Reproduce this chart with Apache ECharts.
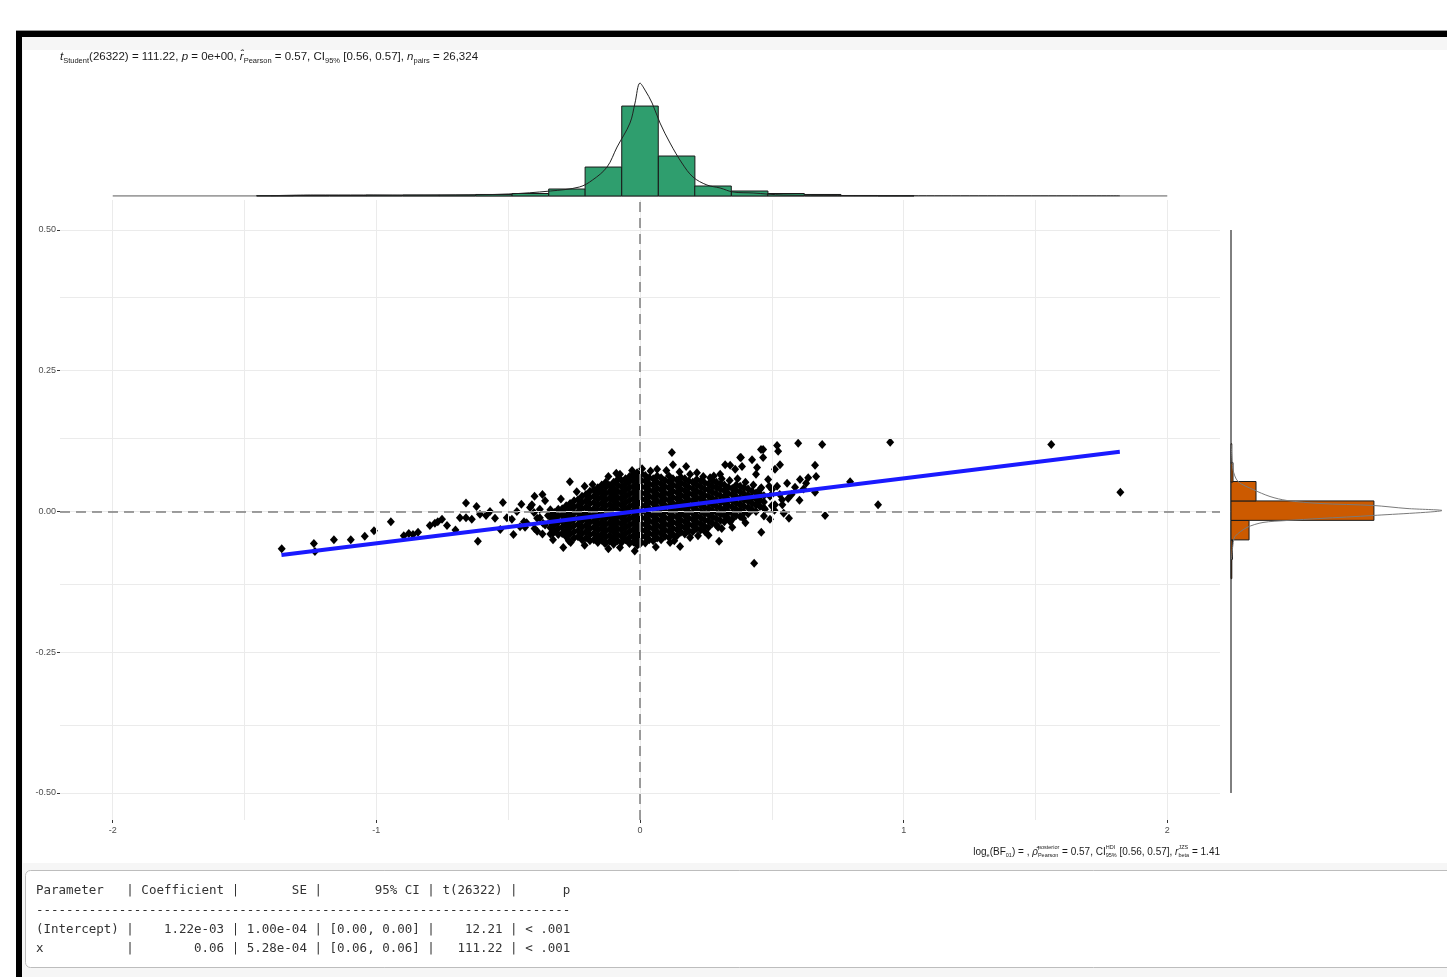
<!DOCTYPE html>
<html><head><meta charset="utf-8">
<script src="https://cdn.jsdelivr.net/npm/echarts@6/dist/echarts.min.js"></script>
<style>html,body{margin:0;padding:0;background:#fff;}#c{width:1447px;height:977px;}</style>
</head><body><div id="c"></div><script>
// ---------- data ----------
const xTicks = [-2, -1, 0, 1, 2];
const xTickLabels = ['-2', '-1', '0', '1', '2'];
const xMinorGrid = [-1.5, -0.5, 0.5, 1.5];
const yTicks = [-0.5, -0.25, 0, 0.25, 0.5];
const yTickLabels = ['-0.50', '-0.25', '0.00', '0.25', '0.50'];
const yMinorGrid = [-0.375, -0.125, 0.125, 0.375];

// isolated / sparse points [x, y]
const tailPoints = [
  [-1.359,-0.066],[-1.237,-0.057],[-1.233,-0.071],[-1.161,-0.050],[-1.097,-0.050],[-1.044,-0.044],[-1.009,-0.034],
  [-0.945,-0.018],[-0.896,-0.043],[-0.877,-0.039],[-0.861,-0.041],[-0.842,-0.037],[-0.797,-0.025],[-0.778,-0.021],
  [-0.767,-0.018],[-0.751,-0.014],[-0.732,-0.025],[-0.700,-0.033],[-0.683,-0.011],[-0.660,-0.011],[-0.660,0.015],
  [-0.638,-0.014],[-0.620,0.009],[-0.615,-0.053],[-0.607,-0.005],[-0.584,-0.007],[-0.569,0.000],[-0.550,-0.012],
  [-0.530,-0.032],[-0.520,0.016],[-0.505,-0.011],[-0.486,-0.014],[-0.480,-0.041],[-0.467,0.000],[-0.455,-0.027],
  [-0.450,0.013],[-0.440,-0.018],[-0.436,-0.028],[-0.417,0.007],[-0.402,-0.002],[-0.400,0.027],[-0.380,-0.011],
  [-0.370,0.030],[-0.368,-0.021],[-0.360,0.019],[-0.349,-0.007],[-0.330,-0.050],[-0.330,-0.038],[-0.291,-0.064],
  [-0.266,0.053],[-0.263,-0.055],[-0.158,-0.049],[-0.133,-0.057],[-0.076,-0.064],[-0.045,-0.053],[0.114,-0.055],
  [0.152,-0.062],[0.300,-0.053],[0.460,-0.037],[0.391,-0.012],
  [-0.076,0.066],[-0.011,0.069],[0.008,0.076],[0.065,0.075],[0.121,0.105],[0.125,0.083],[0.175,0.080],[0.216,0.069],
  [0.323,0.083],[0.380,0.096],[0.387,0.080],[0.444,0.078],[0.467,0.110],[0.459,0.110],[0.520,0.117],[0.524,0.107],
  [0.600,0.121],[0.691,0.119],[0.949,0.123],[1.560,0.119],[1.822,0.034],[0.903,0.012],[0.702,-0.007],[0.797,0.053],
  [0.664,0.082],[0.668,0.062],[0.433,-0.092],[0.565,-0.012],[0.562,0.023],[0.607,0.057],[0.630,0.050],[0.638,0.060],
  [0.664,0.034],[0.531,0.083],[0.512,0.075],[0.467,0.096],[0.425,0.092],[0.383,0.096],[0.361,0.075],[0.342,0.082],
  [0.304,0.066],[0.266,0.060],[0.512,0.012],[0.539,0.021],[0.493,0.027],[0.474,0.004],[0.501,0.039],[0.455,0.039],
  [0.588,0.043],[0.558,0.050],[0.486,0.057],[0.440,0.066],[0.410,0.021],[0.380,0.012],[0.444,0.014],[0.342,-0.018],
  [0.296,-0.028],[0.247,-0.036],[0.190,-0.046],[0.493,-0.014],[0.545,-0.003],[0.575,0.030],[0.620,0.040],[0.605,0.020],
  [-0.400,-0.030],[-0.390,-0.012],[-0.380,0.004],[-0.370,-0.040],[-0.360,-0.024],[0.500,0.030],[0.500,0.010],
  [0.520,0.045],[0.530,0.030],[-0.210,0.045],[-0.120,0.062],[0.260,-0.042],[0.350,-0.028],
  [-0.300,0.022],[-0.240,0.035],[-0.180,0.048],[-0.090,0.068],[-0.030,0.073],[0.040,0.072],[0.100,0.073],[0.150,0.070],
  [0.190,0.066],[0.240,0.062],[0.280,0.063],[0.310,0.058],[0.340,0.055],[0.370,0.058],[0.400,0.052],[0.430,0.047],
  [0.460,0.042],[-0.270,-0.052],[-0.210,-0.060],[-0.120,-0.066],[-0.020,-0.070],[0.060,-0.063],[0.130,-0.052],
  [0.220,-0.043],[0.310,-0.030],[0.400,-0.020],[0.470,-0.008],[-0.430,-0.020],[-0.410,0.012],[-0.390,-0.035],
  [0.490,0.045],[0.510,0.002],[0.540,0.012]
];

// dense core: [x, [y values at that x]]
const coreCols = [
  [-0.34, [-0.040,-0.029,-0.018,-0.007,0.003]],
  [-0.325,[-0.035,-0.024,-0.013,-0.002]],
  [-0.31, [-0.041,-0.030,-0.019,-0.008,0.004]],
  [-0.295,[-0.039,-0.028,-0.017,-0.006,0.005]],
  [-0.28, [-0.045,-0.034,-0.023,-0.012,-0.001,0.010]],
  [-0.265,[-0.040,-0.029,-0.018,-0.007,0.004,0.014]],
  [-0.25, [-0.047,-0.036,-0.025,-0.014,-0.003,0.008,0.019]],
  [-0.235,[-0.045,-0.034,-0.023,-0.012,-0.001,0.010,0.021]],
  [-0.22, [-0.050,-0.039,-0.028,-0.017,-0.006,0.005,0.016,0.027]],
  [-0.205,[-0.047,-0.036,-0.025,-0.014,-0.003,0.008,0.019,0.030]],
  [-0.19, [-0.052,-0.041,-0.030,-0.019,-0.008,0.003,0.014,0.025,0.036]],
  [-0.175,[-0.050,-0.039,-0.028,-0.017,-0.006,0.005,0.016,0.027,0.038]],
  [-0.16, [-0.055,-0.044,-0.033,-0.022,-0.011,0.000,0.011,0.022,0.033,0.042]],
  [-0.145,[-0.051,-0.040,-0.029,-0.018,-0.007,0.004,0.015,0.026,0.037,0.047]],
  [-0.13, [-0.056,-0.045,-0.034,-0.023,-0.012,-0.001,0.010,0.021,0.032,0.043,0.052]],
  [-0.115,[-0.053,-0.042,-0.031,-0.020,-0.009,0.002,0.013,0.024,0.035,0.046]],
  [-0.10, [-0.058,-0.047,-0.036,-0.025,-0.014,-0.003,0.008,0.019,0.030,0.041,0.052]],
  [-0.085,[-0.052,-0.041,-0.030,-0.019,-0.008,0.003,0.014,0.025,0.036,0.047,0.057]],
  [-0.07, [-0.055,-0.044,-0.033,-0.022,-0.011,0.000,0.011,0.022,0.033,0.044,0.055]],
  [-0.055,[-0.050,-0.039,-0.028,-0.017,-0.006,0.005,0.016,0.027,0.038,0.049,0.058]],
  [-0.04, [-0.057,-0.046,-0.035,-0.024,-0.013,-0.002,0.009,0.020,0.031,0.042,0.053,0.062]],
  [-0.025,[-0.054,-0.043,-0.032,-0.021,-0.010,0.001,0.012,0.023,0.034,0.045,0.056,0.066]],
  [-0.01, [-0.060,-0.049,-0.038,-0.027,-0.016,-0.005,0.006,0.017,0.028,0.039,0.050,0.061]],
  [0.005, [-0.055,-0.044,-0.033,-0.022,-0.011,0.000,0.011,0.022,0.033,0.044,0.055,0.067]],
  [0.02,  [-0.056,-0.045,-0.034,-0.023,-0.012,-0.001,0.010,0.021,0.032,0.043,0.054,0.064]],
  [0.035, [-0.050,-0.039,-0.028,-0.017,-0.006,0.005,0.016,0.027,0.038,0.049,0.060]],
  [0.05,  [-0.052,-0.041,-0.030,-0.019,-0.008,0.003,0.014,0.025,0.036,0.047,0.058]],
  [0.065, [-0.047,-0.036,-0.025,-0.014,-0.003,0.008,0.019,0.030,0.041,0.052,0.063]],
  [0.08,  [-0.050,-0.039,-0.028,-0.017,-0.006,0.005,0.016,0.027,0.038,0.049,0.060]],
  [0.095, [-0.044,-0.033,-0.022,-0.011,0.000,0.011,0.022,0.033,0.044,0.055]],
  [0.11,  [-0.046,-0.035,-0.024,-0.013,-0.002,0.009,0.020,0.031,0.042,0.053,0.063]],
  [0.125, [-0.041,-0.030,-0.019,-0.008,0.003,0.014,0.025,0.036,0.047,0.058]],
  [0.14,  [-0.043,-0.032,-0.021,-0.010,0.001,0.012,0.023,0.034,0.045,0.056]],
  [0.155, [-0.037,-0.026,-0.015,-0.004,0.007,0.018,0.029,0.040,0.051,0.061]],
  [0.17,  [-0.040,-0.029,-0.018,-0.007,0.004,0.015,0.026,0.037,0.048,0.058]],
  [0.185, [-0.034,-0.023,-0.012,-0.001,0.010,0.021,0.032,0.043,0.054]],
  [0.20,  [-0.036,-0.025,-0.014,-0.003,0.008,0.019,0.030,0.041,0.052]],
  [0.215, [-0.030,-0.019,-0.008,0.003,0.014,0.025,0.036,0.047,0.057]],
  [0.23,  [-0.033,-0.022,-0.011,0.000,0.011,0.022,0.033,0.044,0.054]],
  [0.245, [-0.026,-0.015,-0.004,0.007,0.018,0.029,0.040,0.051]],
  [0.26,  [-0.028,-0.017,-0.006,0.005,0.016,0.027,0.038,0.049]],
  [0.275, [-0.021,-0.010,0.001,0.012,0.023,0.034,0.045,0.055]],
  [0.29,  [-0.024,-0.013,-0.002,0.009,0.020,0.031,0.042,0.052]],
  [0.305, [-0.016,-0.005,0.006,0.017,0.028,0.039,0.049]],
  [0.32,  [-0.018,-0.007,0.004,0.015,0.026,0.037,0.047]],
  [0.335, [-0.012,-0.001,0.010,0.021,0.032,0.043]],
  [0.35,  [-0.014,-0.003,0.008,0.019,0.030,0.041]],
  [0.365, [-0.007,0.004,0.015,0.026,0.037,0.047]],
  [0.38,  [-0.009,0.002,0.013,0.024,0.035,0.045]],
  [0.395, [-0.002,0.009,0.020,0.031,0.042]],
  [0.41,  [-0.004,0.007,0.018,0.029,0.040]],
  [0.425, [0.003,0.014,0.025,0.036]],
  [0.44,  [0.000,0.011,0.022,0.033]],
  [0.455, [0.009,0.020,0.031]],
  [0.47,  [0.006,0.017,0.028]]
];

// regression fit (x range of data)
const fitX = [-1.36, 1.82];
const fitY = [-0.0772, 0.1062];

// top marginal histogram of x
const xBinWidth = 0.1385;
const xBinCenters = [-1.385,-1.247,-1.108,-0.970,-0.831,-0.693,-0.554,-0.416,-0.277,-0.139,0,0.139,0.277,0.416,0.554,0.693,0.831,0.970];
const xBinCounts  = [40,70,70,110,140,140,210,345,965,4000,12420,5520,1380,690,345,210,70,40];
const xDensX = [-1.40,-1.24,-1.05,-0.90,-0.70,-0.50,-0.34,-0.23,-0.18,-0.125,-0.087,-0.038,-0.019,0,0.019,0.046,0.076,0.114,0.159,0.201,0.254,0.304,0.353,0.429,0.543,0.75,1.0,1.82];
const xDensY = [41,138,138,110,138,276,690,1242,2208,4002,6762,10074,12834,15594,14628,12834,10074,7314,4554,2622,1518,1104,552,414,138,69,28,14];

// right marginal histogram of y
const yBinWidth = 0.0345;
const yBinCenters = [-0.102,-0.0677,-0.0332,0.0015,0.036,0.0696,0.103];
const yBinCounts  = [110,205,2480,19650,3440,275,110];
const yDensY = [0.119,0.0746,0.0533,0.0391,0.0266,0.0195,0.0142,0.0107,0.0053,0.0018,-0.0071,-0.0124,-0.016,-0.0195,-0.0284,-0.0444,-0.0586,-0.085];
const yDensX = [40,275,963,3025,5363,7700,12238,19525,24200,29013,19525,12238,7700,4400,2200,550,275,70];

// annotation texts
const subtitleSegs = [['i','t'],['sub','Student'],['n','(26322) = 111.22, '],['i','p'],['n',' = 0e+00, '],['i','r̂'],['sub','Pearson'],
  ['n',' = 0.57, CI'],['sub','95%'],['n',' [0.56, 0.57], '],['i','n'],['sub','pairs'],['n',' = 26,324']];
const captionSegs = [['n','log'],['sub','e'],['n','(BF'],['sub','01'],['n',') = , '],['i','ρ̂'],['ss','posterior','Pearson'],
  ['n',' = 0.57, CI'],['ss','HDI','95%'],['n',' [0.56, 0.57], '],['i','r'],['ss','JZS','beta'],['n',' = 1.41']];
const tableLines = [
  'Parameter   | Coefficient |       SE |       95% CI | t(26322) |      p',
  '-----------------------------------------------------------------------',
  '(Intercept) |    1.22e-03 | 1.00e-04 | [0.00, 0.00] |    12.21 | < .001',
  'x           |        0.06 | 5.28e-04 | [0.06, 0.06] |   111.22 | < .001'
];

// ---------- build ----------
const scatterData = tailPoints.slice();
coreCols.forEach(function(c){ c[1].forEach(function(y){ scatterData.push([c[0], y]); }); });

const topHist = xBinCenters.map(function(c,i){ return [c - xBinWidth/2, c + xBinWidth/2, xBinCounts[i]]; });
const rightHist = yBinCenters.map(function(c,i){ return [yBinCounts[i], c - yBinWidth/2, c + yBinWidth/2]; });

const FONT = '"Liberation Sans", Arial, sans-serif';
const mctx = document.createElement('canvas').getContext('2d');
function tw(t, size, italic){ mctx.font = (italic ? 'italic ' : '') + size + 'px ' + FONT; return mctx.measureText(t).width; }
function mathText(segs, x0, y0, size, small, align){
  const parts = []; let x = 0;
  segs.forEach(function(s){
    if (s[0] === 'n' || s[0] === 'i') {
      parts.push({dx:x, dy:0, t:s[1], size:size, it:s[0]==='i'}); x += tw(s[1], size, s[0]==='i');
    } else if (s[0] === 'sub') {
      parts.push({dx:x, dy:size*0.32, t:s[1], size:small, it:false}); x += tw(s[1], small, false);
    } else if (s[0] === 'ss') {
      parts.push({dx:x, dy:-size*0.42, t:s[1], size:small, it:false});
      parts.push({dx:x, dy:size*0.36, t:s[2], size:small, it:false});
      x += Math.max(tw(s[1], small, false), tw(s[2], small, false));
    }
  });
  const start = align === 'right' ? x0 - x : x0;
  return parts.map(function(p){
    return {type:'text', z:10, x:start + p.dx, y:y0 + p.dy,
      style:{text:p.t, font:(p.it ? 'italic ' : '') + p.size + 'px ' + FONT, fill:'#1a1a1a', verticalAlign:'middle'}};
  });
}

const chart = echarts.init(document.getElementById('c'), null, {renderer:'canvas'});

const gridLineStyle = {color:'#ebebeb', width:1, type:'solid'};
const gridMarks = [];
xTicks.concat(xMinorGrid).forEach(function(v){ gridMarks.push({xAxis:v}); });
yTicks.concat(yMinorGrid).forEach(function(v){ gridMarks.push({yAxis:v}); });

const graphics = [
  {type:'rect', z:-10, shape:{x:0, y:0, width:1447, height:977}, style:{fill:'#ffffff'}},
  {type:'rect', z:-9, shape:{x:16, y:30, width:1431, height:1}, style:{fill:'#9a9a9a'}},
  {type:'rect', z:-9, shape:{x:16, y:31, width:1431, height:6}, style:{fill:'#000000'}},
  {type:'rect', z:-9, shape:{x:16, y:31, width:6, height:946}, style:{fill:'#000000'}},
  {type:'rect', z:-8, shape:{x:22, y:37, width:1425, height:940}, style:{fill:'#f6f6f6'}},
  {type:'rect', z:-7, shape:{x:23, y:50, width:1424, height:813}, style:{fill:'#ffffff'}},
  {type:'rect', z:-7, shape:{x:25.5, y:870.5, width:1440, height:97, r:5}, style:{fill:'#ffffff', stroke:'#bdbdbd', lineWidth:1}}
];
mathText(subtitleSegs, 60, 57, 11.5, 7.5, 'left').forEach(function(g){ graphics.push(g); });
mathText(captionSegs, 1220, 852, 10, 5.5, 'right').forEach(function(g){ graphics.push(g); });
const tableY = [891, 911, 929.5, 948.5];
tableLines.forEach(function(l, i){
  graphics.push({type:'text', z:10, x:36, y:tableY[i], style:{text:l, font:'12.5px "DejaVu Sans Mono", monospace', fill:'#333333', verticalAlign:'middle'}});
});

const option = {
  backgroundColor:'#ffffff',
  animation:false,
  grid:[
    {left:60, right:227, top:200, bottom:157},
    {left:60, right:227, top:70, bottom:781},
    {left:1231, right:0, top:200, bottom:157}
  ],
  xAxis:[
    {gridIndex:0, type:'value', min:-2.2, max:2.2,
     axisLine:{show:false, onZero:false},
     axisTick:{show:true, customValues:xTicks, length:3, lineStyle:{color:'#333'}},
     axisLabel:{customValues:xTicks, fontSize:9, color:'#4d4d4d', fontFamily:FONT, margin:6,
       formatter:function(v){ var i = xTicks.indexOf(v); return i>=0 ? xTickLabels[i] : ''; }},
     splitLine:{show:false}},
    {gridIndex:1, type:'value', min:-2.2, max:2.2, show:false},
    {gridIndex:2, type:'value', min:0, max:29700, show:false}
  ],
  yAxis:[
    {gridIndex:0, type:'value', min:-0.548, max:0.5533,
     axisLine:{show:false, onZero:false},
     axisTick:{show:true, customValues:yTicks, length:3, lineStyle:{color:'#333'}},
     axisLabel:{customValues:yTicks, fontSize:9, color:'#4d4d4d', fontFamily:FONT, margin:4,
       formatter:function(v){ var i = yTicks.indexOf(v); return i>=0 ? yTickLabels[i] : ''; }},
     splitLine:{show:false}},
    {gridIndex:1, type:'value', min:0, max:17400, show:false},
    {gridIndex:2, type:'value', min:-0.548, max:0.5533, show:false}
  ],
  series:[
    {type:'line', xAxisIndex:0, yAxisIndex:0, data:[], silent:true, z:1,
     markLine:{silent:true, symbol:'none', label:{show:false}, lineStyle:gridLineStyle, data:gridMarks}},
    {type:'scatter', xAxisIndex:0, yAxisIndex:0, data:scatterData, symbol:'diamond', symbolSize:[8,9],
     itemStyle:{color:'#000000', opacity:1}, silent:true, z:3, large:false},
    {type:'line', xAxisIndex:0, yAxisIndex:0, data:[], silent:true, z:4,
     markLine:{silent:true, symbol:'none', label:{show:false},
       lineStyle:{color:'#7f7f7f', width:1.5, type:[10,6]},
       data:[{xAxis:0},{yAxis:0}]}},
    {type:'line', xAxisIndex:0, yAxisIndex:0, data:fitX.map(function(x,i){return [x, fitY[i]];}),
     symbol:'none', lineStyle:{color:'#1a1aff', width:4}, silent:true, z:5},
    {type:'line', xAxisIndex:1, yAxisIndex:1, data:[[-2,0],[2,0]], symbol:'none',
     lineStyle:{color:'#808080', width:1.5}, silent:true, z:2},
    {type:'custom', xAxisIndex:1, yAxisIndex:1, data:topHist, encode:{x:[0,1], y:2}, silent:true, z:3,
     renderItem:function(params, api){
       var lo = api.coord([api.value(0), 0]);
       var hi = api.coord([api.value(1), api.value(2)]);
       return {type:'rect', shape:{x:lo[0], y:hi[1], width:hi[0]-lo[0], height:lo[1]-hi[1]},
               style:{fill:'#2f9e6e', stroke:'#1a1a1a', lineWidth:1}};
     }},
    {type:'line', xAxisIndex:1, yAxisIndex:1, data:xDensX.map(function(x,i){return [x, xDensY[i]];}),
     symbol:'none', smooth:0.35, lineStyle:{color:'#222222', width:1}, silent:true, z:4},
    {type:'line', xAxisIndex:2, yAxisIndex:2, data:[[0,-0.5],[0,0.5]], symbol:'none',
     lineStyle:{color:'#000000', width:1}, silent:true, z:2},
    {type:'custom', xAxisIndex:2, yAxisIndex:2, data:rightHist, encode:{x:0, y:[1,2]}, silent:true, z:3,
     renderItem:function(params, api){
       var lo = api.coord([0, api.value(1)]);
       var hi = api.coord([api.value(0), api.value(2)]);
       return {type:'rect', shape:{x:lo[0], y:hi[1], width:hi[0]-lo[0], height:lo[1]-hi[1]},
               style:{fill:'#cc5a00', stroke:'#1a1a1a', lineWidth:1}};
     }},
    {type:'line', xAxisIndex:2, yAxisIndex:2, data:yDensX.map(function(x,i){return [x, yDensY[i]];}),
     symbol:'none', smooth:0.3, lineStyle:{color:'#7a7a7a', width:1}, silent:true, z:4}
  ],
  graphic:graphics
};
chart.setOption(option);
</script></body></html>
